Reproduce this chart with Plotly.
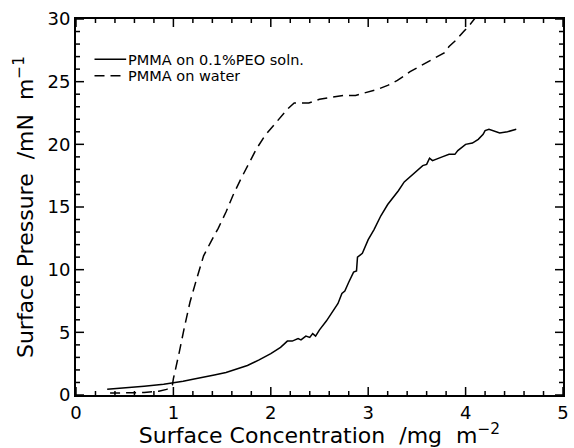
import plotly.graph_objects as go

# PMMA on 0.1%PEO soln. (solid)
peo_x = [0.32,0.5,0.7,0.9,1.0,1.1,1.2,1.31,1.42,1.54,1.65,1.76,1.88,2.0,2.1,2.17,2.22,2.28,2.31,2.36,2.4,2.43,2.46,2.5,
         2.57,2.63,2.69,2.73,2.76,2.8,2.85,2.88,2.89,2.94,3.0,3.06,3.13,3.2,3.24,3.31,3.37,3.43,3.5,3.56,3.6,3.63,3.66,
         3.7,3.76,3.83,3.89,3.92,3.97,4.0,4.07,4.13,4.18,4.2,4.24,4.28,4.35,4.43,4.52]
peo_y = [0.45,0.55,0.7,0.85,0.95,1.1,1.25,1.4,1.6,1.8,2.1,2.35,2.8,3.3,3.8,4.3,4.3,4.5,4.4,4.7,4.6,4.9,4.7,5.2,
         5.9,6.6,7.3,8.1,8.3,9.0,9.8,9.9,11.0,11.3,12.4,13.2,14.3,15.2,15.6,16.3,17.0,17.4,17.9,18.3,18.4,18.9,18.7,
         18.8,19.0,19.2,19.2,19.5,19.8,20.0,20.1,20.4,20.8,21.1,21.2,21.1,20.9,21.0,21.2]

# PMMA on water (dashed)
water_x = [0.35,0.5,0.7,0.85,0.93,0.97,0.99,1.0,1.03,1.06,1.11,1.17,1.24,1.31,1.39,1.46,1.54,1.61,1.69,1.76,1.85,
           1.94,2.02,2.09,2.17,2.24,2.3,2.39,2.5,2.6,2.75,2.87,3.0,3.1,3.2,3.3,3.43,3.55,3.69,3.78,3.83,3.9,3.98,4.05,4.12]
water_y = [0.15,0.15,0.2,0.3,0.45,0.6,0.8,1.3,2.3,3.4,5.3,7.4,9.3,11.1,12.3,13.3,14.6,15.9,17.2,18.3,19.6,
           20.7,21.4,22.1,22.8,23.3,23.3,23.3,23.6,23.7,23.9,23.9,24.2,24.4,24.7,25.1,25.8,26.3,26.9,27.3,27.8,28.3,29.0,29.6,30.3]

series_names = ["PMMA on 0.1%PEO soln.", "PMMA on water"]

X_RANGE = [0, 5]
Y_RANGE = [0, 30]
x_major = [0, 1, 2, 3, 4, 5]
y_major = [0, 5, 10, 15, 20, 25, 30]
x_minor = [round(0.2 * i, 1) for i in range(26)]
y_minor = list(range(31))

FONT = "DejaVu Sans"

fig = go.Figure()
fig.add_trace(go.Scatter(x=peo_x, y=peo_y, mode="lines", name=series_names[0],
                         line=dict(color="black", width=1.5), showlegend=False))
fig.add_trace(go.Scatter(x=water_x, y=water_y, mode="lines", name=series_names[1],
                         line=dict(color="black", width=1.5, dash="10px,6px"), showlegend=False))

shapes = []
tick_line = dict(color="black", width=1.5)
# x-axis ticks, bottom and top (inside)
for v in x_minor:
    L = 8 if v in x_major else 4
    shapes.append(dict(type="line", xref="x", yref="y domain", ysizemode="pixel", yanchor=0,
                       x0=v, x1=v, y0=0, y1=L, line=tick_line, layer="above"))
    shapes.append(dict(type="line", xref="x", yref="y domain", ysizemode="pixel", yanchor=1,
                       x0=v, x1=v, y0=0, y1=-L, line=tick_line, layer="above"))
# y-axis ticks, left and right (inside)
for v in y_minor:
    L = 8 if v in y_major else 4
    shapes.append(dict(type="line", yref="y", xref="x domain", xsizemode="pixel", xanchor=0,
                       y0=v, y1=v, x0=0, x1=L, line=tick_line, layer="above"))
    shapes.append(dict(type="line", yref="y", xref="x domain", xsizemode="pixel", xanchor=1,
                       y0=v, y1=v, x0=0, x1=-L, line=tick_line, layer="above"))

# legend samples (drawn manually for compact spacing)
LEG_X0, LEG_X1 = 0.038, 0.103
LEG_Y = [0.893, 0.849]
shapes.append(dict(type="line", xref="paper", yref="paper", x0=LEG_X0, x1=LEG_X1, y0=LEG_Y[0], y1=LEG_Y[0],
                   line=dict(color="black", width=1.5)))
shapes.append(dict(type="line", xref="paper", yref="paper", x0=LEG_X0, x1=LEG_X1, y0=LEG_Y[1], y1=LEG_Y[1],
                   line=dict(color="black", width=1.5, dash="10px,6px")))
annotations = [dict(text=series_names[i], xref="paper", yref="paper", x=LEG_X1 + 0.002, y=LEG_Y[i],
                    xanchor="left", yanchor="middle", showarrow=False, height=15, borderpad=0,
                    font=dict(family=FONT, size=14.5, color="black")) for i in range(2)]

fig.update_layout(
    width=574, height=448,
    margin=dict(l=76, r=5, t=19, b=53),
    plot_bgcolor="white", paper_bgcolor="white",
    showlegend=False,
    shapes=shapes,
    annotations=annotations,
    xaxis=dict(range=X_RANGE, tickvals=x_major, showgrid=False, zeroline=False,
               showline=True, linecolor="black", linewidth=2, mirror=True, ticks="",
               tickfont=dict(family=FONT, size=18, color="black"),
               title=dict(text="Surface Concentration  /mg  m<sup>−2</sup>",
                          font=dict(family=FONT, size=22, color="black"), standoff=0)),
    yaxis=dict(range=Y_RANGE, tickvals=y_major, showgrid=False, zeroline=False,
               showline=True, linecolor="black", linewidth=2, mirror=True, ticks="",
               tickfont=dict(family=FONT, size=18, color="black"),
               title=dict(text="Surface Pressure  /mN  m<sup>−1</sup>",
                          font=dict(family=FONT, size=22, color="black"), standoff=8)),
)

fig.write_html("out.html")
